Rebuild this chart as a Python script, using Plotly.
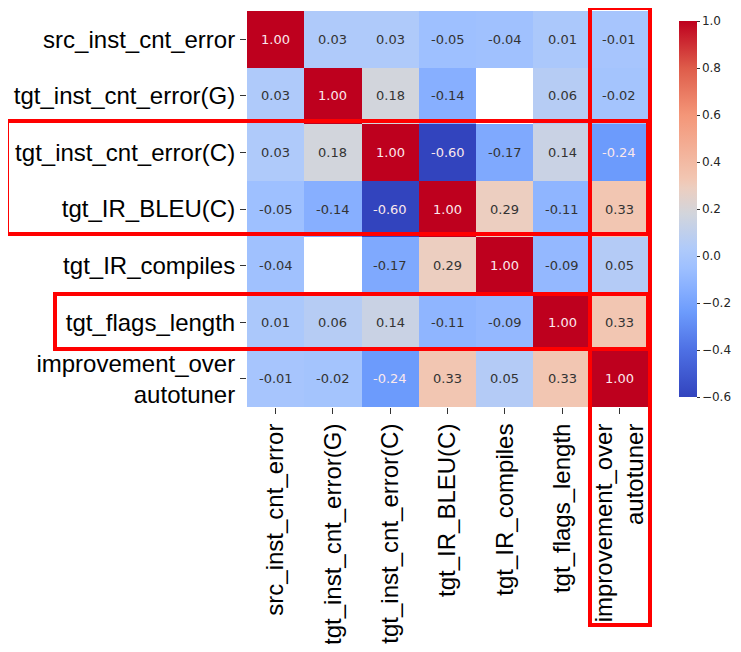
import plotly.graph_objects as go

# Variable names (rows and columns are the same)
labels = [
    "src_inst_cnt_error",
    "tgt_inst_cnt_error(G)",
    "tgt_inst_cnt_error(C)",
    "tgt_IR_BLEU(C)",
    "tgt_IR_compiles",
    "tgt_flags_length",
    "improvement_over<br>autotuner",
]

# Correlation values (None = blank cell)
row_src = [1.00, 0.03, 0.03, -0.05, -0.04, 0.01, -0.01]
row_g = [0.03, 1.00, 0.18, -0.14, None, 0.06, -0.02]
row_c = [0.03, 0.18, 1.00, -0.60, -0.17, 0.14, -0.24]
row_bleu = [-0.05, -0.14, -0.60, 1.00, 0.29, -0.11, 0.33]
row_compiles = [-0.04, None, -0.17, 0.29, 1.00, -0.09, 0.05]
row_flags = [0.01, 0.06, 0.14, -0.11, -0.09, 1.00, 0.33]
row_improve = [-0.01, -0.02, -0.24, 0.33, 0.05, 0.33, 1.00]
z = [row_src, row_g, row_c, row_bleu, row_compiles, row_flags, row_improve]

cbar_ticks = [-0.6, -0.4, -0.2, 0.0, 0.2, 0.4, 0.6, 0.8, 1.0]

# coolwarm-like scale, tuned to the colours in the picture
coolwarm = [
    [0.0, "rgb(50,68,190)"],
    [0.125, "rgb(78,112,228)"],
    [0.225, "rgb(108,155,252)"],
    [0.2875, "rgb(135,175,255)"],
    [0.34375, "rgb(158,192,255)"],
    [0.39375, "rgb(175,202,250)"],
    [0.4875, "rgb(210,213,220)"],
    [0.55625, "rgb(236,206,192)"],
    [0.58125, "rgb(242,198,178)"],
    [0.75, "rgb(244,150,120)"],
    [0.875, "rgb(222,92,74)"],
    [1.0, "rgb(190,0,30)"],
]

OFF = 8  # page body margin, the figure starts at (8, 8) in the window
W, H = 741 - 2 * OFF, 652 - 2 * OFF
# plot area in window pixels
L, R, T, B = 247, 648, 11, 407


def px_x(p):
    return (p - L) / (R - L)


def px_y(p):
    return (B - p) / (B - T)


fig = go.Figure()
fig.add_trace(go.Heatmap(
    z=z, x=labels, y=labels,
    colorscale=coolwarm, zmin=-0.6, zmax=1.0,
    hoverongaps=False,
    colorbar=dict(
        x=px_x(669), xanchor="left", y=0.5, yanchor="middle",
        thickness=18, len=B - T, lenmode="pixels",
        outlinewidth=0, tickvals=cbar_ticks, tickformat=".1f",
        ticks="outside", ticklen=3, tickcolor="#333",
        tickfont=dict(family="DejaVu Sans", size=12, color="#262626"),
    ),
))

# cell value labels
annotations = []
for i, row in enumerate(z):
    for j, v in enumerate(row):
        if v is None:
            continue
        color = "#fbe8ec" if (v >= 0.8 or v <= -0.2) else "#333333"
        annotations.append(dict(
            x=labels[j], y=labels[i], text=f"{v:.2f}", showarrow=False,
            font=dict(family="DejaVu Sans", size=13, color=color),
        ))

# red highlight boxes (window pixel positions converted to paper coords)
boxes = [
    (7, 121, 648, 234),
    (55, 294, 648, 349),
    (590, 8, 650, 625),
]
shapes = [
    dict(type="rect", xref="paper", yref="paper",
         x0=px_x(a), x1=px_x(c), y0=px_y(d), y1=px_y(b),
         line=dict(color="#ff0000", width=4))
    for a, b, c, d in boxes
]

fig.update_layout(
    width=W, height=H,
    margin=dict(l=L - OFF, r=W - (R - OFF), t=T - OFF, b=H - (B - OFF),
                autoexpand=False),
    plot_bgcolor="white", paper_bgcolor="white",
    annotations=annotations, shapes=shapes,
    xaxis=dict(tickangle=-90, ticks="outside", ticklen=6, tickcolor="#333",
               tickfont=dict(family="Liberation Sans", size=24, color="black"),
               showgrid=False, zeroline=False, automargin=False),
    yaxis=dict(autorange="reversed", ticks="outside", ticklen=6, tickcolor="#333",
               tickfont=dict(family="Liberation Sans", size=24, color="black"),
               showgrid=False, zeroline=False, automargin=False),
)

fig.write_html("out.html")
